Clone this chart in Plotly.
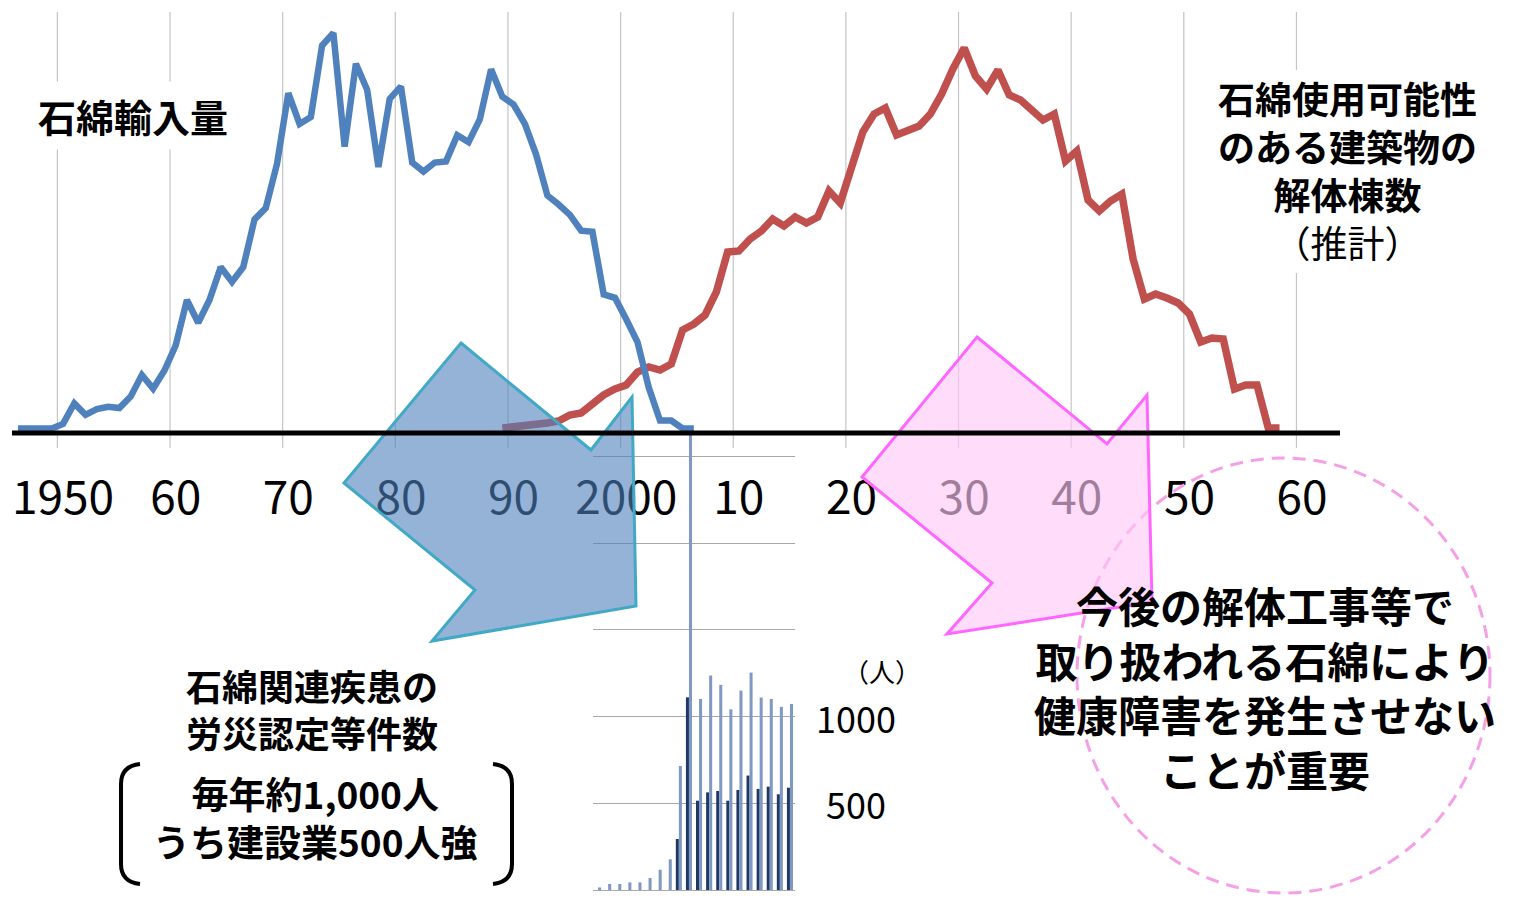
import plotly.graph_objects as go

# ---- data -----------------------------------------------------------
IMPORT_YEARS = list(range(1946, 2007))
ASBESTOS_IMPORT_KT = [
    4, 4, 4, 4, 8, 26, 16, 21, 23, 22, 32, 51, 39, 55, 77, 117, 97, 117,
    146, 133, 146, 188, 198, 237, 299, 272, 278, 341, 352, 252, 325, 302,
    234, 294, 305, 238, 230, 238, 239, 262, 256, 276, 320, 296, 289, 272,
    245, 209, 201, 192, 178, 177, 122, 119, 100, 80, 40, 11, 11, 4, 4,
]

DEMOLITION_YEARS = list(range(1989, 2059))
DEMOLITION_INDEX = [
    5, 6, 7, 8, 10, 12, 18, 20, 29, 38, 44, 48, 61, 66, 63, 69, 103, 109,
    118, 141, 181, 182, 194, 202, 214, 207, 216, 210, 216, 242, 230, 266,
    301, 319, 325, 298, 303, 307, 319, 339, 364, 385, 357, 344, 363, 338,
    333, 324, 313, 319, 272, 282, 233, 222, 232, 239, 174, 134, 139, 135,
    130, 119, 91, 95, 94, 44, 48, 48, 5, 5,
]

CLAIM_YEARS = list(range(1997, 2017))
CLAIMS_TOTAL = [15, 35, 35, 44, 44, 69, 117, 177, 715, 2640, 1102, 1237,
                1183, 1042, 1150, 1254, 1110, 1102, 1056, 1073]
CLAIMS_CONSTRUCTION = [0, 0, 0, 0, 0, 0, 0, 0, 294, 1111, 515, 563, 571,
                       515, 577, 660, 583, 596, 552, 590]

DECADES = list(range(1950, 2061, 10))
DECADE_LABELS = ["1950", "60", "70", "80", "90", "2000",
                 "10", "20", "30", "40", "50", "60"]
CLAIM_TICKS = [500, 1000]

# ---- theme / geometry -------------------------------------------------
FONT = "Noto Sans CJK JP"
BLUE = "#4f81bd"
RED = "#c0504d"
NAVY = "#1f3864"
LIGHT = "#7f99c2"
GRID = "#c4c4c4"

W, H = 1535, 898
OFF = 8                # page body margin: screen px = figure px + OFF
BASE_PX = 433          # screen row of the black zero line
X_ORIGIN_PX = 57.4     # screen column of the 1950 gridline
X_PER_YEAR = 11.264
KT_PER_PX = 0.88
CLAIM_PX = 0.1734      # px per person in the inset
CLAIM_ZERO_PX = 890
BOTTOM_PX = H + OFF
TOP_PX = OFF


def px(x):
    return (x - OFF) / W


def py(y):
    return 1 - (y - OFF) / H


def xdata(p):
    return 1949.5 + (p - X_ORIGIN_PX) / X_PER_YEAR


def poly(pts):
    return "M " + " L ".join(f"{px(x):.5f},{py(y):.5f}" for x, y in pts) + " Z"


BLUE_ARROW = [(461, 343), (591, 450), (632, 397), (636, 606),
              (432, 641), (475, 590), (344, 483)]
PINK_ARROW = [(977, 337), (1107, 444), (1147, 395), (1152, 602),
              (947, 634), (992, 583), (862, 477)]


def bracket(x_tip, x_edge, y0, y1):
    r = 20
    return (f"M {px(x_tip):.5f},{py(y0):.5f} "
            f"Q {px(x_edge):.5f},{py(y0 + 2):.5f} {px(x_edge):.5f},{py(y0 + r):.5f} "
            f"L {px(x_edge):.5f},{py(y1 - r):.5f} "
            f"Q {px(x_edge):.5f},{py(y1 - 2):.5f} {px(x_tip):.5f},{py(y1):.5f}")


fig = go.Figure()
fig.add_trace(go.Scatter(
    x=DEMOLITION_YEARS, y=DEMOLITION_INDEX, mode="lines",
    line=dict(color=RED, width=7.5), xaxis="x", yaxis="y", hoverinfo="skip",
))
fig.add_trace(go.Scatter(
    x=IMPORT_YEARS, y=ASBESTOS_IMPORT_KT, mode="lines",
    line=dict(color=BLUE, width=6.5), xaxis="x", yaxis="y2", hoverinfo="skip",
))
fig.add_trace(go.Bar(
    x=CLAIM_YEARS, y=CLAIMS_CONSTRUCTION, marker=dict(color=NAVY, line_width=0),
    xaxis="x3", yaxis="y3", hoverinfo="skip",
))
fig.add_trace(go.Bar(
    x=CLAIM_YEARS, y=CLAIMS_TOTAL, marker=dict(color=LIGHT, line_width=0),
    xaxis="x3", yaxis="y3", hoverinfo="skip",
))

shapes = []
# decade gridlines
for d in DECADES:
    shapes.append(dict(type="line", xref="x", yref="paper",
                       x0=d - 0.5, x1=d - 0.5, y0=py(448), y1=py(12),
                       line=dict(color=GRID, width=1.2), layer="below"))
# white box behind the right-hand label
shapes.append(dict(type="rect", xref="x", yref="paper",
                   x0=xdata(1195), x1=xdata(1500), y0=py(273), y1=py(70),
                   fillcolor="white", line_width=0, layer="below"))
# dashed circle, arrows, zero line, brackets
shapes.append(dict(type="circle", xref="paper", yref="paper",
                   x0=px(1077), x1=px(1490), y0=py(893), y1=py(458),
                   line=dict(color="#f5a0e6", width=3, dash="13px,8px"),
                   layer="above"))
shapes.append(dict(type="path", path=poly(BLUE_ARROW), xref="paper", yref="paper",
                   fillcolor="rgba(79,129,189,0.6)",
                   line=dict(color="#41a9c5", width=3), layer="above"))
shapes.append(dict(type="path", path=poly(PINK_ARROW), xref="paper", yref="paper",
                   fillcolor="rgba(255,200,245,0.63)",
                   line=dict(color="#ff66ff", width=3), layer="above"))
shapes.append(dict(type="line", xref="x", yref="y",
                   x0=xdata(12), x1=xdata(1340), y0=0, y1=0,
                   line=dict(color="black", width=5), layer="above"))
shapes.append(dict(type="path", path=bracket(140, 121, 764, 884),
                   xref="paper", yref="paper",
                   line=dict(color="black", width=4), layer="above"))
shapes.append(dict(type="path", path=bracket(493, 512, 764, 884),
                   xref="paper", yref="paper",
                   line=dict(color="black", width=4), layer="above"))

annotations = []


def label(text, x, y, size, bg=None, pad=1, yref="paper", xref="paper"):
    annotations.append(dict(
        text=text, x=x, y=y, xref=xref, yref=yref, showarrow=False,
        xanchor="center", yanchor="middle", align="center",
        font=dict(family=FONT, size=size, color="black"),
        bgcolor=bg, borderpad=pad,
    ))


label("<b>石綿輸入量</b>", px(133), py(115), 38, bg="white", pad=6)
label("<b>石綿使用可能性<br>のある建築物の<br>解体棟数</b><br>（推計）",
      px(1347), py(170), 37)
label("<b>石綿関連疾患の<br>労災認定等件数</b>", px(312), py(708), 36)
label("<b>毎年約1,000人<br>うち建設業500人強</b>", px(315), py(817), 37)
label("<b>今後の解体工事等で<br>取り扱われる石綿により<br>健康障害を発生させない<br>ことが重要</b>",
      px(1265), py(686), 42)
label("（人）", px(882), py(670), 26)
for v in CLAIM_TICKS:
    label(str(v), px(856), v, 36, yref="y3")

fig.update_layout(
    width=W, height=H,
    margin=dict(l=0, r=0, t=0, b=0),
    paper_bgcolor="white", plot_bgcolor="rgba(0,0,0,0)",
    showlegend=False,
    font=dict(family=FONT, color="black"),
    bargap=0.4, bargroupgap=0,
    xaxis=dict(
        domain=[0, 1], range=[xdata(TOP_PX), xdata(OFF + W)],
        anchor="free", position=py(467),
        tickmode="array", tickvals=DECADES, ticktext=DECADE_LABELS,
        tickfont=dict(family=FONT, size=46, color="black"),
        ticks="", showgrid=False, zeroline=False, showline=False,
    ),
    yaxis=dict(domain=[0, 1], range=[-(BOTTOM_PX - BASE_PX), BASE_PX - TOP_PX],
               visible=False),
    yaxis2=dict(overlaying="y",
                range=[-(BOTTOM_PX - BASE_PX) * KT_PER_PX, (BASE_PX - TOP_PX) * KT_PER_PX],
                visible=False),
    xaxis3=dict(domain=[px(593), px(795)], range=[1996.5, 2016.5],
                anchor="y3", visible=False),
    yaxis3=dict(
        domain=[0, py(BASE_PX)], anchor="x3",
        range=[-(BOTTOM_PX - CLAIM_ZERO_PX) / CLAIM_PX, (CLAIM_ZERO_PX - BASE_PX) / CLAIM_PX],
        tickvals=[0, 500, 1000, 1500, 2000, 2500], showticklabels=False,
        showgrid=True, gridcolor="#a8a8a8", gridwidth=1.2,
        zeroline=False, ticks="",
    ),
    shapes=shapes,
    annotations=annotations,
)

fig.write_html("out.html")
